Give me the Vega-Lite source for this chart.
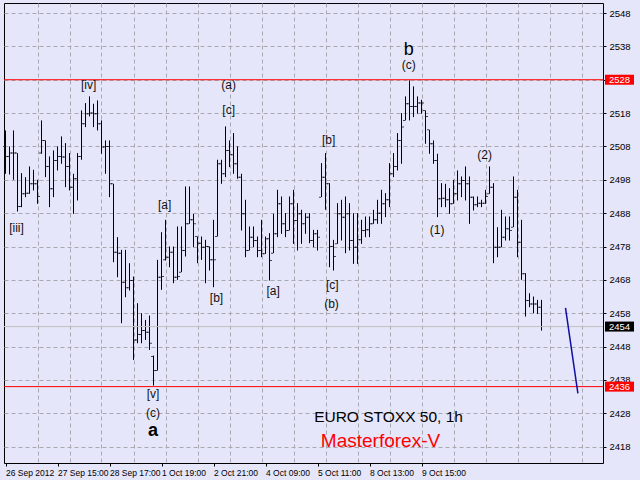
{
  "$schema": "https://vega.github.io/schema/vega-lite/v6.json",
  "width": 599,
  "height": 460,
  "autosize": {"type": "none"},
  "padding": {"left": 4, "top": 3, "right": 37, "bottom": 17},
  "background": "#E6E6FA",
  "config": {
    "view": {"stroke": "#000000", "strokeWidth": 1},
    "axis": {"domain": false, "title": null, "labelColor": "#000000", "tickColor": "#000000", "gridColor": "#A8A8B0", "gridDash": [4, 3], "gridWidth": 1, "labelOverlap": false}
  },
  "datasets": {
    "bars": [
      {"n":1,"o":2508,"h":2512.8,"l":2499.8,"c":2505},
      {"n":2,"o":2505,"h":2508,"l":2499.6,"c":2506},
      {"n":3,"o":2506,"h":2512.8,"l":2498,"c":2506},
      {"n":4,"o":2506,"h":2506,"l":2488.5,"c":2490},
      {"n":5,"o":2490,"h":2500,"l":2489.8,"c":2493.8},
      {"n":6,"o":2493.8,"h":2498.8,"l":2492.8,"c":2494},
      {"n":7,"o":2494,"h":2502,"l":2493.8,"c":2496.8},
      {"n":8,"o":2496.8,"h":2501,"l":2494.8,"c":2496.8},
      {"n":9,"o":2496.8,"h":2498,"l":2490.8,"c":2493},
      {"n":10,"o":2506,"h":2515.8,"l":2505.8,"c":2509.8},
      {"n":11,"o":2509.8,"h":2509.8,"l":2498.8,"c":2502},
      {"n":12,"o":2502,"h":2505,"l":2489.8,"c":2495.3},
      {"n":13,"o":2495.3,"h":2506.8,"l":2492.8,"c":2503.8},
      {"n":14,"o":2503.8,"h":2508,"l":2500.8,"c":2505},
      {"n":15,"o":2505,"h":2511,"l":2502.8,"c":2504.8},
      {"n":16,"o":2504.8,"h":2509,"l":2495.8,"c":2502},
      {"n":17,"o":2502,"h":2506,"l":2494.8,"c":2495.8},
      {"n":18,"o":2495.8,"h":2499.8,"l":2487.8,"c":2498.3},
      {"n":19,"o":2498.3,"h":2506,"l":2491.8,"c":2505},
      {"n":20,"o":2505,"h":2518.8,"l":2504,"c":2514.8},
      {"n":21,"o":2514.8,"h":2521,"l":2513.8,"c":2517.8},
      {"n":22,"o":2517.8,"h":2523,"l":2517,"c":2518},
      {"n":23,"o":2518,"h":2520.8,"l":2513.8,"c":2517.8},
      {"n":24,"o":2517.8,"h":2521.8,"l":2512.8,"c":2514.8},
      {"n":25,"o":2514.8,"h":2515.8,"l":2505.8,"c":2507.8},
      {"n":26,"o":2507.8,"h":2509.8,"l":2499.8,"c":2508},
      {"n":27,"o":2508,"h":2509.8,"l":2492.8,"c":2496.8},
      {"n":28,"o":2496.8,"h":2496.8,"l":2473.3,"c":2476.3},
      {"n":29,"o":2476.3,"h":2480.8,"l":2468.8,"c":2476},
      {"n":30,"o":2476,"h":2477,"l":2455,"c":2467.3},
      {"n":31,"o":2467.3,"h":2477,"l":2462.8,"c":2465.6},
      {"n":32,"o":2465.6,"h":2473,"l":2464.8,"c":2467.8},
      {"n":33,"o":2467.8,"h":2469,"l":2444,"c":2450},
      {"n":34,"o":2450,"h":2461,"l":2449,"c":2451.6},
      {"n":35,"o":2451.6,"h":2458,"l":2449,"c":2452.8},
      {"n":36,"o":2452.8,"h":2456,"l":2450,"c":2452.3},
      {"n":37,"o":2452.3,"h":2457.3,"l":2447,"c":2449},
      {"n":38,"o":2445,"h":2445.3,"l":2436.3,"c":2440.8},
      {"n":39,"o":2440.8,"h":2474,"l":2440.8,"c":2468.8},
      {"n":40,"o":2468.8,"h":2482.3,"l":2465,"c":2469},
      {"n":41,"o":2474,"h":2486,"l":2473.8,"c":2474.8},
      {"n":42,"o":2474.8,"h":2478,"l":2471.8,"c":2476.3},
      {"n":43,"o":2476.3,"h":2478,"l":2467,"c":2468.8},
      {"n":44,"o":2468.8,"h":2484,"l":2468,"c":2469},
      {"n":45,"o":2470.3,"h":2484,"l":2470.3,"c":2476.8},
      {"n":46,"o":2476.8,"h":2496,"l":2475,"c":2484.8},
      {"n":47,"o":2484.8,"h":2496,"l":2484.8,"c":2486},
      {"n":48,"o":2486,"h":2487.8,"l":2477.8,"c":2484.8},
      {"n":49,"o":2481,"h":2481,"l":2473,"c":2479},
      {"n":50,"o":2479,"h":2481,"l":2474,"c":2477.8},
      {"n":51,"o":2477.8,"h":2480,"l":2467,"c":2478},
      {"n":52,"o":2478,"h":2478,"l":2470.8,"c":2474},
      {"n":53,"o":2474,"h":2486,"l":2465.8,"c":2474},
      {"n":54,"o":2481,"h":2504,"l":2481,"c":2502.8},
      {"n":55,"o":2502.8,"h":2504,"l":2496.8,"c":2499.8},
      {"n":56,"o":2499.8,"h":2514,"l":2498.8,"c":2506.8},
      {"n":57,"o":2506.8,"h":2509.8,"l":2501.8,"c":2505.5},
      {"n":58,"o":2505.5,"h":2512,"l":2499.8,"c":2502.8},
      {"n":59,"o":2502.8,"h":2508,"l":2498.3,"c":2498.8},
      {"n":60,"o":2498.8,"h":2499.8,"l":2482.8,"c":2487.8},
      {"n":61,"o":2487.8,"h":2492,"l":2474.8,"c":2476.8},
      {"n":62,"o":2476.8,"h":2484,"l":2476.8,"c":2480.8},
      {"n":63,"o":2480.8,"h":2484,"l":2477.8,"c":2479.8},
      {"n":64,"o":2479.8,"h":2481,"l":2474.8,"c":2476.8},
      {"n":65,"o":2476.8,"h":2486,"l":2474.8,"c":2475.8},
      {"n":66,"o":2475.8,"h":2481,"l":2475.8,"c":2480.3},
      {"n":67,"o":2480.3,"h":2482,"l":2467.8,"c":2473.8},
      {"n":68,"o":2476,"h":2487.8,"l":2476,"c":2481.8},
      {"n":69,"o":2481.8,"h":2495,"l":2480.8,"c":2490.8},
      {"n":70,"o":2490.8,"h":2493,"l":2481.8,"c":2484.8},
      {"n":71,"o":2484.8,"h":2488,"l":2480.8,"c":2482.8},
      {"n":72,"o":2482.8,"h":2493,"l":2482.8,"c":2490.8},
      {"n":73,"o":2490.8,"h":2495,"l":2478.8,"c":2485.8},
      {"n":74,"o":2485.8,"h":2491,"l":2476.8,"c":2487.8},
      {"n":75,"o":2487.8,"h":2489,"l":2478.8,"c":2484.8},
      {"n":76,"o":2484.8,"h":2488,"l":2481.8,"c":2486.8},
      {"n":77,"o":2486.8,"h":2488,"l":2479,"c":2479.8},
      {"n":78,"o":2479.8,"h":2483,"l":2477.8,"c":2481.8},
      {"n":79,"o":2481.8,"h":2483,"l":2476.8,"c":2480.8},
      {"n":80,"o":2492.8,"h":2503,"l":2492.8,"c":2498.8},
      {"n":81,"o":2498.8,"h":2506,"l":2489,"c":2496.8},
      {"n":82,"o":2496.8,"h":2497,"l":2471.8,"c":2478},
      {"n":83,"o":2478,"h":2480,"l":2470.8,"c":2475},
      {"n":84,"o":2478.8,"h":2491,"l":2478.8,"c":2487.8},
      {"n":85,"o":2487.8,"h":2492,"l":2479.8,"c":2486.8},
      {"n":86,"o":2486.8,"h":2493,"l":2476,"c":2487.8},
      {"n":87,"o":2487.8,"h":2491,"l":2476.8,"c":2479.8},
      {"n":88,"o":2479.8,"h":2488,"l":2472.8,"c":2477.8},
      {"n":89,"o":2477.8,"h":2488,"l":2472.8,"c":2480},
      {"n":90,"o":2480,"h":2486,"l":2478.8,"c":2482.8},
      {"n":91,"o":2482.8,"h":2487,"l":2480.8,"c":2483},
      {"n":92,"o":2483,"h":2487,"l":2480.8,"c":2484.8},
      {"n":93,"o":2484.8,"h":2489,"l":2484.8,"c":2486},
      {"n":94,"o":2486,"h":2492,"l":2484.8,"c":2488},
      {"n":95,"o":2488,"h":2495,"l":2484.8,"c":2490.8},
      {"n":96,"o":2490.8,"h":2494,"l":2486.8,"c":2492},
      {"n":97,"o":2492,"h":2503,"l":2489.8,"c":2499.8},
      {"n":98,"o":2499.8,"h":2506,"l":2498.8,"c":2502},
      {"n":99,"o":2502,"h":2512,"l":2500.8,"c":2509.8},
      {"n":100,"o":2509.8,"h":2518,"l":2502.8,"c":2513.8},
      {"n":101,"o":2515.8,"h":2523,"l":2515.8,"c":2520.8},
      {"n":102,"o":2520.8,"h":2527.8,"l":2515.8,"c":2520},
      {"n":103,"o":2520,"h":2526,"l":2516.8,"c":2520},
      {"n":104,"o":2520,"h":2523,"l":2517.8,"c":2521},
      {"n":105,"o":2521,"h":2522,"l":2517.8,"c":2521},
      {"n":106,"o":2518.8,"h":2518.8,"l":2508.8,"c":2517},
      {"n":107,"o":2513,"h":2513,"l":2505.8,"c":2508.8},
      {"n":108,"o":2508.8,"h":2509.8,"l":2502.8,"c":2503.8},
      {"n":109,"o":2503.8,"h":2505.8,"l":2486.8,"c":2492.3},
      {"n":110,"o":2492.3,"h":2497,"l":2489.8,"c":2492.5},
      {"n":111,"o":2492.5,"h":2496.8,"l":2489.8,"c":2492},
      {"n":112,"o":2492,"h":2495.5,"l":2487.8,"c":2490.8},
      {"n":113,"o":2490.8,"h":2498,"l":2490.8,"c":2493.8},
      {"n":114,"o":2493.8,"h":2500.8,"l":2491.8,"c":2496.8},
      {"n":115,"o":2496.8,"h":2499,"l":2492.8,"c":2497.8},
      {"n":116,"o":2497.8,"h":2502,"l":2491.8,"c":2496.8},
      {"n":117,"o":2496.8,"h":2499,"l":2484.8,"c":2492.8},
      {"n":118,"o":2492.8,"h":2493,"l":2488.8,"c":2490.5},
      {"n":119,"o":2490.5,"h":2493,"l":2489.8,"c":2491},
      {"n":120,"o":2491,"h":2492,"l":2489.8,"c":2491},
      {"n":121,"o":2491,"h":2495,"l":2490.8,"c":2493},
      {"n":122,"o":2493.8,"h":2502,"l":2493.8,"c":2495.8},
      {"n":123,"o":2495.8,"h":2497,"l":2473,"c":2477.8},
      {"n":124,"o":2477.8,"h":2483.8,"l":2474.8,"c":2477.8},
      {"n":125,"o":2477.8,"h":2489,"l":2477.8,"c":2480.8},
      {"n":126,"o":2480.8,"h":2487,"l":2479.8,"c":2483.3},
      {"n":127,"o":2483.3,"h":2487,"l":2479.8,"c":2482.8},
      {"n":128,"o":2483.8,"h":2499,"l":2483.8,"c":2492.8},
      {"n":129,"o":2492.8,"h":2495,"l":2474.8,"c":2479.3},
      {"n":130,"o":2479.3,"h":2486,"l":2468,"c":2469.8},
      {"n":131,"o":2469.8,"h":2470,"l":2457,"c":2461.8},
      {"n":132,"o":2461.8,"h":2464,"l":2459.8,"c":2460.8},
      {"n":133,"o":2460.8,"h":2463,"l":2458,"c":2460.8},
      {"n":134,"o":2460.8,"h":2462,"l":2457.8,"c":2459.8},
      {"n":135,"o":2459.8,"h":2462,"l":2452.8,"c":2454}
    ],
    "waves": [
      {"n":3.75,"p":2483.6,"t":"[iii]"},
      {"n":21.8,"p":2526.3,"t":"[iv]"},
      {"n":40.8,"p":2490.3,"t":"[a]"},
      {"n":37.9,"p":2433.8,"t":"[v]"},
      {"n":37.9,"p":2428,"t":"(c)"},
      {"n":53.75,"p":2462.6,"t":"[b]"},
      {"n":56.8,"p":2526.3,"t":"(a)"},
      {"n":56.8,"p":2518.8,"t":"[c]"},
      {"n":67.9,"p":2464.8,"t":"[a]"},
      {"n":81.8,"p":2509.8,"t":"[b]"},
      {"n":82.7,"p":2466.6,"t":"[c]"},
      {"n":82.5,"p":2460.9,"t":"(b)"},
      {"n":101.8,"p":2532.3,"t":"(c)"},
      {"n":108.9,"p":2482.8,"t":"(1)"},
      {"n":120.8,"p":2505.5,"t":"(2)"}
    ],
    "bigA": [{"n":37.9,"p":2422.8,"t":"a"}],
    "bigB": [{"n":101.8,"p":2537,"t":"b"}],
    "redLevels": [{"p":2528},{"p":2436}],
    "lastPrice": [{"p":2454}],
    "forecast": [{"n":141,"p":2459.6},{"n":144.1,"p":2434}],
    "redBoxes": [{"n":154.5,"p":2528,"t":"2528"},{"n":154.5,"p":2436,"t":"2436"}],
    "blackBox": [{"n":154.5,"p":2454,"t":"2454"}],
    "title1": [{"n":96.75,"p":2426.8,"t":"EURO STOXX 50, 1h"}],
    "title2": [{"n":94.75,"p":2419.8,"t":"Masterforex-V"}]
  },
  "resolve": {"axis": {"x": "independent", "y": "independent"}},
  "layer": [
    {
      "data": {"name": "bars"},
      "mark": {"type": "rule", "color": "#000000", "strokeWidth": 1},
      "encoding": {
        "x": {"field": "n", "type": "quantitative", "scale": {"domain": [0.625, 150.375], "nice": false, "zero": false},
          "axis": {"orient": "bottom", "values": [1, 14, 27, 40, 53, 66, 79, 92, 105], "grid": false, "tickSize": 3, "labelPadding": 2, "labelAlign": "left", "labelDx": -2, "labelFont": "Liberation Sans", "labelFontSize": 8.5, "labelOverlap": false, "labelBound": false, "labelFlush": false,
            "labelExpr": "datum.value == 1 ? '26 Sep 2012' : datum.value == 14 ? '27 Sep 15:00' : datum.value == 27 ? '28 Sep 17:00' : datum.value == 40 ? '1 Oct 19:00' : datum.value == 53 ? '2 Oct 21:00' : datum.value == 66 ? '4 Oct 09:00' : datum.value == 79 ? '5 Oct 11:00' : datum.value == 92 ? '8 Oct 13:00' : '9 Oct 15:00'"}},
        "y": {"field": "l", "type": "quantitative", "scale": {"domain": [2413.1, 2551], "nice": false, "zero": false},
          "axis": {"orient": "right", "values": [2418, 2428, 2438, 2448, 2458, 2468, 2478, 2488, 2498, 2508, 2518, 2528, 2538, 2548], "format": "d", "labelOverlap": false, "labelBound": false, "labelFlush": false, "labelSeparation": 0, "grid": true, "tickSize": 3, "labelPadding": 3, "labelFont": "Liberation Sans", "labelFontSize": 9.5}},
        "y2": {"field": "h"}
      }
    },
    {
      "data": {"name": "bars"},
      "mark": {"type": "tick", "orient": "horizontal", "color": "#000000", "size": 2, "thickness": 1, "xOffset": -1.5},
      "encoding": {
        "x": {"field": "n", "type": "quantitative",
          "axis": {"orient": "bottom", "values": [9, 17, 25, 33, 41, 49, 57, 65, 73, 81, 89, 97, 105, 113, 121, 129, 137, 145], "grid": true, "gridDash": [4, 3], "gridColor": "#A8A8B0", "labels": false, "ticks": false, "domain": false}},
        "y": {"field": "o", "type": "quantitative", "axis": null}
      }
    },
    {
      "data": {"name": "bars"},
      "mark": {"type": "tick", "orient": "horizontal", "color": "#000000", "size": 2, "thickness": 1, "xOffset": 1.5},
      "encoding": {
        "x": {"field": "n", "type": "quantitative", "axis": null},
        "y": {"field": "c", "type": "quantitative", "axis": null}
      }
    },
    {
      "data": {"name": "lastPrice"},
      "mark": {"type": "rule", "color": "#C0C0C0", "strokeWidth": 1},
      "encoding": {"y": {"field": "p", "type": "quantitative", "axis": null}}
    },
    {
      "data": {"name": "redLevels"},
      "mark": {"type": "rule", "color": "#FF0000", "strokeWidth": 1},
      "encoding": {"y": {"field": "p", "type": "quantitative", "axis": null}}
    },
    {
      "data": {"name": "forecast"},
      "mark": {"type": "line", "color": "#1010A0", "strokeWidth": 1.5},
      "encoding": {
        "x": {"field": "n", "type": "quantitative", "axis": null},
        "y": {"field": "p", "type": "quantitative", "axis": null}
      }
    },
    {
      "data": {"name": "waves"},
      "mark": {"type": "text", "font": "Liberation Sans", "fontSize": 12, "color": "#111111", "baseline": "middle", "align": "center"},
      "encoding": {
        "x": {"field": "n", "type": "quantitative", "axis": null},
        "y": {"field": "p", "type": "quantitative", "axis": null},
        "text": {"field": "t"}
      }
    },
    {
      "data": {"name": "bigA"},
      "mark": {"type": "text", "font": "Liberation Sans", "fontSize": 18, "fontWeight": "bold", "color": "#000000", "baseline": "middle", "align": "center"},
      "encoding": {
        "x": {"field": "n", "type": "quantitative", "axis": null},
        "y": {"field": "p", "type": "quantitative", "axis": null},
        "text": {"field": "t"}
      }
    },
    {
      "data": {"name": "bigB"},
      "mark": {"type": "text", "font": "Liberation Sans", "fontSize": 18, "color": "#000000", "baseline": "middle", "align": "center"},
      "encoding": {
        "x": {"field": "n", "type": "quantitative", "axis": null},
        "y": {"field": "p", "type": "quantitative", "axis": null},
        "text": {"field": "t"}
      }
    },
    {
      "data": {"name": "title1"},
      "mark": {"type": "text", "font": "Liberation Sans", "fontSize": 15.5, "color": "#000000", "baseline": "middle", "align": "center"},
      "encoding": {
        "x": {"field": "n", "type": "quantitative", "axis": null},
        "y": {"field": "p", "type": "quantitative", "axis": null},
        "text": {"field": "t"}
      }
    },
    {
      "data": {"name": "title2"},
      "mark": {"type": "text", "font": "Liberation Sans", "fontSize": 19, "color": "#FF0000", "baseline": "middle", "align": "center"},
      "encoding": {
        "x": {"field": "n", "type": "quantitative", "axis": null},
        "y": {"field": "p", "type": "quantitative", "axis": null},
        "text": {"field": "t"}
      }
    },
    {
      "data": {"name": "redBoxes"},
      "mark": {"type": "tick", "orient": "horizontal", "color": "#FF0000", "size": 29, "thickness": 10, "opacity": 1},
      "encoding": {
        "x": {"field": "n", "type": "quantitative", "axis": null},
        "y": {"field": "p", "type": "quantitative", "axis": null}
      }
    },
    {
      "data": {"name": "blackBox"},
      "mark": {"type": "tick", "orient": "horizontal", "color": "#000000", "size": 29, "thickness": 10, "opacity": 1},
      "encoding": {
        "x": {"field": "n", "type": "quantitative", "axis": null},
        "y": {"field": "p", "type": "quantitative", "axis": null}
      }
    },
    {
      "data": {"name": "redBoxes"},
      "mark": {"type": "text", "font": "Liberation Sans", "fontSize": 9.5, "color": "#FFFFFF", "baseline": "middle", "align": "center"},
      "encoding": {
        "x": {"field": "n", "type": "quantitative", "axis": null},
        "y": {"field": "p", "type": "quantitative", "axis": null},
        "text": {"field": "t"}
      }
    },
    {
      "data": {"name": "blackBox"},
      "mark": {"type": "text", "font": "Liberation Sans", "fontSize": 9.5, "color": "#FFFFFF", "baseline": "middle", "align": "center"},
      "encoding": {
        "x": {"field": "n", "type": "quantitative", "axis": null},
        "y": {"field": "p", "type": "quantitative", "axis": null},
        "text": {"field": "t"}
      }
    }
  ]
}
